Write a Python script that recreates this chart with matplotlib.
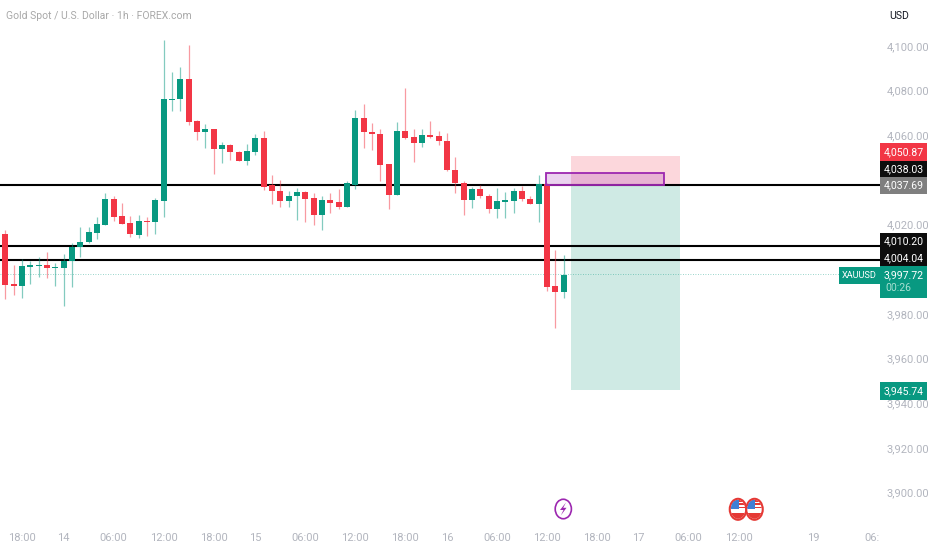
import matplotlib
matplotlib.use('Agg')
import matplotlib.pyplot as plt
from matplotlib.patches import Rectangle, Ellipse
from matplotlib.path import Path
from matplotlib.patches import PathPatch

plt.rcParams['font.family'] = ['Roboto', 'DejaVu Sans']

# candles, one entry per hour bar
body_top = [4015.8, 3993.4, 4001.3, 4001.9, 4001.9, 4001.9, 4001.0, 4003.7, 4010.1, 4012.2,
            4016.5, 4020.3, 4031.3, 4031.3, 4023.9, 4020.6, 4021.5, 4021.8, 4031.0, 4076.1,
            4076.4, 4085.1, 4085.1, 4066.3, 4062.8, 4062.7, 4055.7, 4055.5, 4052.5, 4053.0,
            4058.8, 4058.8, 4037.7, 4035.1, 4033.0, 4034.7, 4034.7, 4031.8, 4031.0, 4030.9,
            4030.0, 4038.5, 4067.8, 4067.8, 4061.5, 4060.6, 4047.0, 4062.1, 4062.1, 4059.1,
            4060.3, 4060.3, 4059.5, 4057.6, 4044.4, 4038.8, 4035.9, 4035.9, 4033.0, 4030.6,
            4030.9, 4035.0, 4035.0, 4031.5, 4038.3, 4038.3, 3992.4, 3997.4]
body_bottom = [3992.9, 3992.6, 3992.6, 4001.0, 4001.5, 4000.4, 4000.6, 4000.7, 4003.6, 4010.1,
               4012.1, 4016.2, 4020.0, 4023.6, 4020.3, 4015.6, 4015.5, 4021.2, 4021.2, 4030.7,
               4076.0, 4076.1, 4066.0, 4061.3, 4061.3, 4053.9, 4053.9, 4052.4, 4048.5, 4048.5,
               4052.7, 4037.0, 4034.9, 4030.6, 4030.7, 4032.8, 4031.6, 4024.2, 4024.2, 4029.8,
               4027.8, 4027.8, 4037.7, 4061.3, 4060.4, 4046.7, 4033.4, 4033.4, 4058.8, 4056.6,
               4056.6, 4059.2, 4057.4, 4044.4, 4038.6, 4031.0, 4031.0, 4032.8, 4026.8, 4026.8,
               4030.3, 4030.4, 4031.3, 4029.3, 4029.3, 3992.2, 3989.8, 3989.8]
highs = [4017.6, 4001.9, 4004.7, 4003.8, 4005.6, 4007.7, 4002.7, 4006.8, 4011.9, 4018.8,
         4018.8, 4023.3, 4034.0, 4033.0, 4029.5, 4023.9, 4024.3, 4023.6, 4031.8, 4102.7,
         4088.4, 4090.7, 4100.5, 4066.9, 4064.9, 4062.8, 4056.9, 4056.1, 4052.8, 4056.0,
         4060.6, 4061.8, 4042.1, 4040.0, 4035.2, 4036.2, 4035.2, 4034.0, 4032.8, 4034.0,
         4035.8, 4039.7, 4071.3, 4074.0, 4065.7, 4062.7, 4047.1, 4065.8, 4081.0, 4062.7,
         4063.0, 4066.6, 4061.8, 4060.9, 4050.1, 4039.7, 4036.7, 4037.8, 4033.7, 4036.4,
         4034.8, 4036.2, 4037.3, 4032.8, 4042.2, 4038.5, 4008.6, 4006.4]
lows = [3986.5, 3988.5, 3987.0, 3993.4, 3996.7, 3996.0, 3992.5, 3983.5, 3992.2, 4005.6,
        4011.6, 4013.6, 4019.7, 4021.8, 4020.3, 4014.6, 4013.9, 4014.9, 4015.6, 4023.3,
        4071.0, 4070.9, 4064.6, 4057.9, 4054.2, 4042.7, 4047.7, 4048.9, 4048.5, 4046.8,
        4051.0, 4035.5, 4029.2, 4028.0, 4028.0, 4022.1, 4021.3, 4019.7, 4017.4, 4025.4,
        4026.8, 4027.8, 4035.8, 4054.2, 4053.4, 4039.7, 4026.8, 4033.4, 4058.2, 4047.9,
        4054.9, 4058.6, 4055.8, 4044.2, 4034.0, 4024.3, 4027.6, 4032.1, 4025.3, 4023.0,
        4023.0, 4025.4, 4030.7, 4029.3, 4021.3, 3990.4, 3973.8, 3987.1]
is_up = [0, 0, 1, 1, 1, 0, 1, 1, 1, 1, 1, 1, 1, 0, 0, 0, 1, 0, 1, 1,
         1, 1, 0, 0, 1, 0, 1, 0, 0, 1, 1, 0, 0, 0, 1, 1, 0, 0, 1, 0,
         0, 1, 1, 0, 0, 0, 0, 1, 0, 0, 1, 0, 0, 0, 0, 0, 1, 0, 0, 1,
         1, 1, 0, 0, 1, 0, 0, 1]

level_lines = [4037.69, 4010.20, 4004.04]
last_price = 3997.72
stop_price = 4050.87
target_price = 3945.74
zone_top = 4043.0

# 4,040 and 4,000 sit behind the price tags, so they carry no label
price_ticks = [4100, 4080, 4060, 4020, 3980, 3960, 3940, 3920, 3900]
time_pos = [2, 7, 13, 19, 25, 30, 36, 42, 48, 53, 59, 65, 71, 76, 82, 88, 97, 104]
time_labels = ['18:00', '14', '06:00', '12:00', '18:00', '15', '06:00', '12:00', '18:00', '16',
               '06:00', '12:00', '18:00', '17', '06:00', '12:00', '19', '06:']

GREEN = '#089981'
RED = '#f23645'
GREY = '#b2b5be'

fig = plt.figure(figsize=(9.32, 5.5), dpi=100, facecolor='white')
ax = fig.add_axes([0, 32 / 550, 880 / 932, 518 / 550])
ax.set_xlim(-0.636, 104.96)
ax.set_ylim(3888.6, 4120.6)
for s in ax.spines.values():
    s.set_visible(False)

# position box and zone
ax.add_patch(Rectangle((67.9, level_lines[0]), 13.1, stop_price - level_lines[0], fc='#fcd7dc', ec='none', zorder=1))
ax.add_patch(Rectangle((67.9, target_price), 13.1, level_lines[0] - target_price, fc='#cfeae4', ec='none', zorder=1))

for lv in level_lines:
    ax.axhline(lv, color='black', lw=1.5, zorder=2)
ax.axhline(last_price, color=GREEN, lw=0.6, ls=(0, (1, 2)), alpha=0.55, zorder=2)

# candles
for i in range(len(is_up)):
    c = GREEN if is_up[i] else RED
    ax.vlines(i, lows[i], highs[i], color=c, lw=0.9, alpha=0.5, zorder=3)
    ax.bar(i, body_top[i] - body_bottom[i], bottom=body_bottom[i], width=0.7, color=c, lw=0, zorder=4)

ax.add_patch(Rectangle((64.9, level_lines[0]), 14.1, zone_top - level_lines[0], fc='#9c27b0', alpha=0.2, ec='none', zorder=5))
ax.add_patch(Rectangle((64.9, level_lines[0]), 14.1, zone_top - level_lines[0], fc='none', ec='#9c27b0', lw=1.3, zorder=5))

ax.yaxis.tick_right()
ax.set_yticks(price_ticks)
ax.set_yticklabels([f'{p:,.2f}' for p in price_ticks], fontsize=8, color=GREY)
ax.set_xticks(time_pos)
ax.set_xticklabels(time_labels, fontsize=8, color=GREY)
ax.tick_params(axis='both', length=0)
ax.tick_params(axis='y', pad=5)
ax.tick_params(axis='x', pad=11)

# overlay in pixels for the price tags and event icons
ov = fig.add_axes([0, 0, 1, 1], facecolor='none')
ov.set_xlim(0, 932)
ov.set_ylim(550, 0)
ov.axis('off')

ov.text(6, 16, 'Gold Spot / U.S. Dollar · 1h · FOREX.com', fontsize=7.5, color='#a8a8a8', va='center', ha='left')
ov.text(899, 16, 'USD', fontsize=7.6, color='#131722', va='center', ha='center')


def tag(y0, y1, txt, bg, fg='white', x0=880, x1=927, size=7.6):
    ov.add_patch(Rectangle((x0, y0), x1 - x0, y1 - y0, fc=bg, ec='none'))
    ov.text((x0 + x1) / 2, (y0 + y1) / 2, txt, color=fg, fontsize=size, ha='center', va='center')


tag(143, 161, '4,050.87', RED)
tag(161, 177, '4,038.03', '#0d0d0d')
tag(177, 194, '4,037.69', '#7f7f7f')
tag(233, 250, '4,010.20', '#0d0d0d')
tag(250, 266, '4,004.04', '#0d0d0d')
ov.add_patch(Rectangle((880, 266), 47, 32, fc=GREEN, ec='none'))
ov.text(903.5, 275, '3,997.72', color='white', fontsize=7.6, ha='center', va='center')
ov.text(898, 288, '00:26', color='#a8e0d2', fontsize=7.6, ha='center', va='center')
tag(267, 284, 'XAUUSD', GREEN, x0=839, x1=880, size=6.6)
tag(382, 400, '3,945.74', GREEN)

# lightning event icon
ov.add_patch(Ellipse((563.3, 509), 16.2, 19.5, fc='white', ec='#9c27b0', lw=1.2))
bolt = Path([(566, 502.5), (560, 510), (563.5, 510), (560.8, 515.5), (566.5, 507.8), (563.2, 507.8), (566, 502.5)])
ov.add_patch(PathPatch(bolt, fc='#9c27b0', ec='none'))


def flag(cx, cy=509.3):
    ov.add_patch(Ellipse((cx, cy), 16.5, 21, fc='white', ec='#e53935', lw=1.5, zorder=3))
    clip = Ellipse((cx, cy), 14.5, 19, transform=ov.transData)
    for k in range(3):
        r = Rectangle((cx - 8, cy - 9.5 + k * 3.4), 16, 1.7, fc='#e53935', ec='none', zorder=4)
        ov.add_patch(r)
        r.set_clip_path(clip)
    band = Rectangle((cx - 8, cy + 3.5), 16, 6, fc='#e53935', ec='none', zorder=4)
    ov.add_patch(band)
    band.set_clip_path(clip)
    canton = Rectangle((cx - 8, cy - 9.5), 8.5, 9.5, fc='#3f7fd6', ec='none', zorder=5)
    ov.add_patch(canton)
    canton.set_clip_path(clip)


flag(738)
flag(754.5)

fig.savefig('out.png', dpi=100)
